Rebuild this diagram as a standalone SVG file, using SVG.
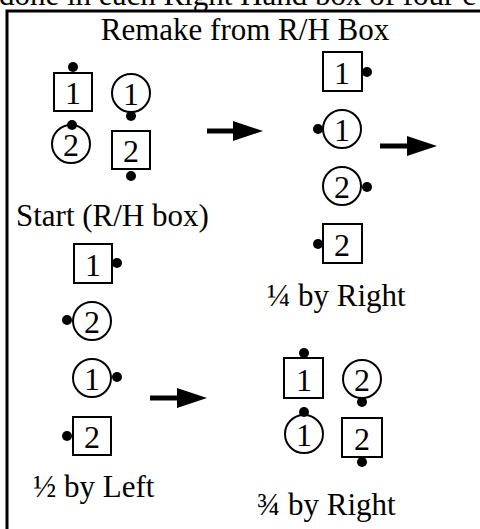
<svg xmlns="http://www.w3.org/2000/svg" width="480" height="529" viewBox="0 0 480 529">
<style>
text{font-family:"Liberation Serif","Times New Roman",serif;font-size:31px;fill:#000}
.d{text-anchor:middle;font-size:32px}
.b{fill:#fff;stroke:#000;stroke-width:2}
.dot{fill:#000}
.fr{fill:none;stroke:#000;stroke-width:3}
.ar{stroke:#000;stroke-width:5;fill:none}
</style>
<defs>
<marker id="ah" markerUnits="userSpaceOnUse" markerWidth="30" markerHeight="20" viewBox="0 0 30 20" refX="0" refY="10" orient="auto">
<path d="M0,0 L30,10 L0,20 z" fill="#000"/>
</marker>
</defs>
<rect width="480" height="529" fill="#fff"/>
<text x="-1" y="5">done in each Right Hand box of four c</text>
<path class="fr" d="M7,540 V11 H490"/>
<text x="245" y="40" text-anchor="middle">Remake from R/H Box</text>

<g id="start-sq1"><rect class="b" x="54" y="73" width="38" height="38"/><circle class="dot" cx="73" cy="67" r="5"/><text class="d" x="73" y="104">1</text></g>
<g id="start-c1"><circle class="b" cx="131" cy="93" r="19"/><circle class="dot" cx="131" cy="116" r="5"/><text class="d" x="131" y="105">1</text></g>
<g id="start-c2"><circle class="b" cx="71" cy="144" r="19"/><circle class="dot" cx="72" cy="125" r="5"/><text class="d" x="71" y="156">2</text></g>
<g id="start-sq2"><rect class="b" x="112" y="131" width="38" height="38"/><circle class="dot" cx="131" cy="176" r="5"/><text class="d" x="131" y="162">2</text></g>
<text x="16" y="226" font-size="33">Start (R/H box)</text>

<g id="q-sq1"><rect class="b" x="323" y="52" width="39" height="39"/><circle class="dot" cx="367" cy="72" r="5"/><text class="d" x="342" y="84">1</text></g>
<g id="q-c1"><circle class="b" cx="342" cy="129" r="19"/><circle class="dot" cx="318" cy="129" r="5"/><text class="d" x="342" y="141">1</text></g>
<g id="q-c2"><circle class="b" cx="342" cy="186" r="19"/><circle class="dot" cx="367" cy="187" r="5"/><text class="d" x="342" y="198">2</text></g>
<g id="q-sq2"><rect class="b" x="323" y="224" width="39" height="39"/><circle class="dot" cx="318" cy="244" r="5"/><text class="d" x="342" y="256">2</text></g>
<text x="267" y="306">¼ by Right</text>

<g id="h-sq1"><rect class="b" x="74" y="244" width="38" height="39"/><circle class="dot" cx="117" cy="263" r="5"/><text class="d" x="93" y="276">1</text></g>
<g id="h-c2"><circle class="b" cx="92" cy="321" r="19"/><circle class="dot" cx="67" cy="320" r="5"/><text class="d" x="92" y="333">2</text></g>
<g id="h-c1"><circle class="b" cx="92" cy="378" r="19"/><circle class="dot" cx="117" cy="377" r="5"/><text class="d" x="92" y="390">1</text></g>
<g id="h-sq2"><rect class="b" x="73" y="417" width="38" height="38"/><circle class="dot" cx="67" cy="436" r="5"/><text class="d" x="92" y="448">2</text></g>
<text x="33" y="497">½ by Left</text>

<g id="t-sq1"><rect class="b" x="284" y="358" width="39" height="40"/><circle class="dot" cx="304" cy="353" r="5"/><text class="d" x="304" y="391">1</text></g>
<g id="t-c2"><circle class="b" cx="362" cy="379" r="19"/><circle class="dot" cx="362" cy="402" r="5"/><text class="d" x="362" y="391">2</text></g>
<g id="t-c1"><circle class="b" cx="304" cy="434" r="19"/><circle class="dot" cx="304" cy="412" r="5"/><text class="d" x="304" y="446">1</text></g>
<g id="t-sq2"><rect class="b" x="342" y="418" width="40" height="39"/><circle class="dot" cx="362" cy="462" r="5"/><text class="d" x="362" y="450">2</text></g>
<text x="257" y="515">¾ by Right</text>

<g id="connectors">
<path class="ar" d="M207,131 H233" marker-end="url(#ah)"/>
<path class="ar" d="M380,146 H407" marker-end="url(#ah)"/>
<path class="ar" d="M150,398 H177" marker-end="url(#ah)"/>
</g>
</svg>
